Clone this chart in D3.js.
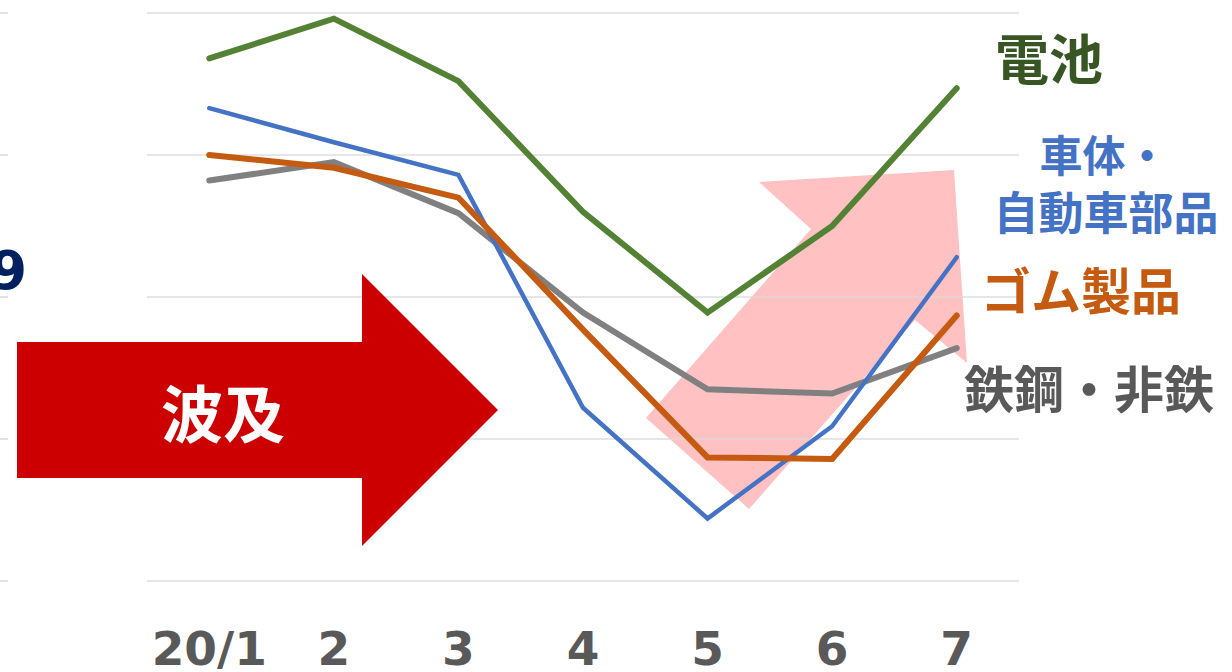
<!DOCTYPE html>
<html><head><meta charset="utf-8">
<script src="https://cdn.jsdelivr.net/npm/d3@7/dist/d3.min.js"></script>
<style>body{margin:0;background:#fff}svg{display:block}</style>
</head><body>
<svg id="c" width="1232" height="672"></svg>
<script>
const categories = ["20/1","2","3","4","5","6","7"];
const seriesNames = ["電池","車体・自動車部品","ゴム製品","鉄鋼・非鉄"];
const battery = [106.8,109.6,105.2,96.0,88.9,95.0,104.7];
const autoParts = [103.3,100.9,98.6,82.2,74.4,80.9,92.8];
const rubber = [100.0,99.1,97.0,87.7,78.7,78.6,88.7];
const steel = [98.2,99.5,95.9,88.9,83.5,83.2,86.4];
const yTicks = [70,80,90,100,110];

const svg = d3.select("#c");
const x = d3.scaleBand().domain(categories).range([147,1019]);
const y = d3.scaleLinear().domain([70,110]).range([581,13]);
const cx = d => x(d) + x.bandwidth()/2;

// pink arrow (background)
const pink = [[646,418],[811,229],[759,182],[954,170],[967,363],[915,320],[749,509]];
svg.append("polygon").attr("points", pink.map(p=>p.join(",")).join(" "))
  .attr("fill","#FFC1C1");

// gridlines
svg.append("g").selectAll("line").data(yTicks).join("line")
  .attr("x1",147).attr("x2",1019).attr("y1",d=>y(d)).attr("y2",d=>y(d))
  .attr("stroke","#D9D9D9").attr("stroke-width",1.5).attr("opacity",0.85);
svg.append("g").selectAll("line").data(yTicks).join("line")
  .attr("x1",0).attr("x2",8).attr("y1",d=>y(d)).attr("y2",d=>y(d))
  .attr("stroke","#D9D9D9").attr("stroke-width",1.5);

// x axis labels
const xAxis = d3.axisBottom(x).tickSize(0).tickPadding(0);
const gx = svg.append("g").attr("transform","translate(0,665)").call(xAxis);
gx.select(".domain").remove();
gx.selectAll("text").attr("dy",0).attr("y",0)
  .attr("fill","#595959").attr("font-family","DejaVu Sans, Verdana, sans-serif")
  .attr("font-weight","bold").attr("font-size",47);

// red arrow
const red = [[17,342],[362,342],[362,274],[498,410],[362,546],[362,478],[17,478]];
svg.append("polygon").attr("points", red.map(p=>p.join(",")).join(" "))
  .attr("fill","#CC0000");
svg.append("text").attr("x",223).attr("y",411).attr("text-anchor","middle")
  .attr("dominant-baseline","central").attr("fill","#fff")
  .attr("font-family","Noto Sans CJK JP").attr("font-weight","bold")
  .attr("font-size",62).text("波及");

// cut-off label on left
svg.append("text").attr("x",27).attr("y",289).attr("text-anchor","end")
  .attr("fill","#002060")
  .attr("font-family","DejaVu Sans, Verdana, sans-serif").attr("font-weight","bold")
  .attr("font-size",54).text("9");

// lines
const series = [
  {v:battery, c:"#548235", w:6},
  {v:autoParts, c:"#4472C4", w:4.5},
  {v:rubber, c:"#C55A11", w:6},
  {v:steel, c:"#808080", w:6}
];
const line = d3.line().x((d,i)=>cx(categories[i])).y(d=>y(d));
const drawOrder = [3,1,2,0];
drawOrder.forEach(i=>{
  svg.append("path").attr("d",line(series[i].v)).attr("fill","none")
    .attr("stroke",series[i].c).attr("stroke-width",series[i].w)
    .attr("stroke-linecap","round").attr("stroke-linejoin","miter");
});

// labels
const lab = (t,xx,yy,col,fs)=>svg.append("text").attr("x",xx).attr("y",yy)
  .attr("text-anchor","middle").attr("dominant-baseline","central")
  .attr("fill",col).attr("font-family","Noto Sans CJK JP").attr("font-weight","bold")
  .attr("font-size",fs).text(t);
lab(seriesNames[0],1049,56,"#375623",54);
lab("車体・",1104,153,"#4472C4",43);
lab("自動車部品",1106,210,"#4472C4",45);
lab(seriesNames[2],1081,288,"#C55A11",50);
lab(seriesNames[3],1089,386,"#595959",50);
</script>
</body></html>
